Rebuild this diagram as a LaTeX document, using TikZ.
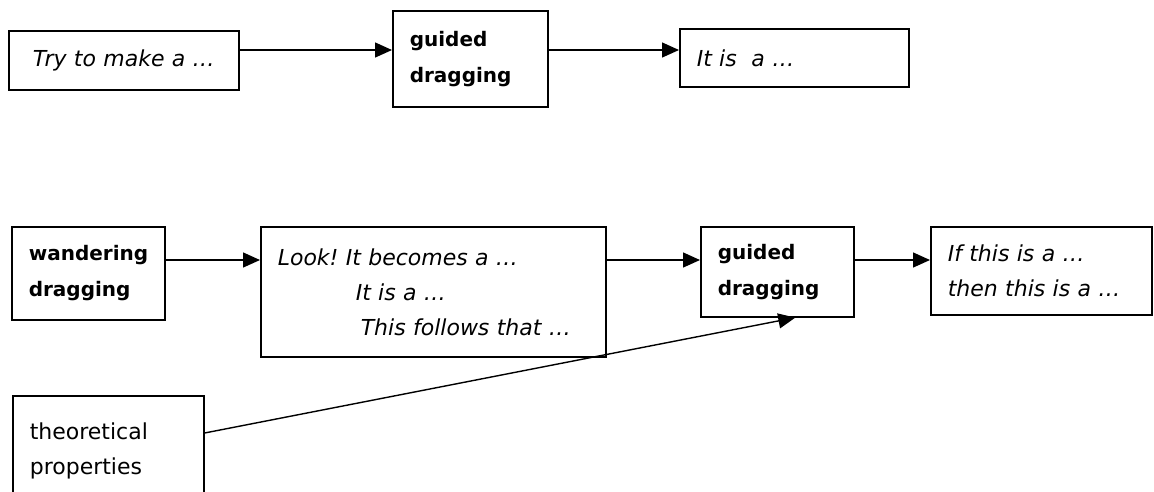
\documentclass[tikz,border=0pt]{standalone}
\usepackage{fontspec}
\setmainfont{DejaVu Sans}
\usetikzlibrary{arrows.meta}
\frenchspacing

\begin{document}
\begin{tikzpicture}[x=1pt, y=-1pt,
    box/.style={draw, line width=1.6pt, anchor=north west, inner xsep=17pt, inner ysep=0pt, align=left},
    phrase/.style={box, font=\fontsize{22}{35}\selectfont\itshape},
    mode/.style={box, font=\fontsize{20}{36}\selectfont\bfseries},
    plain/.style={box, font=\fontsize{22}{35}\selectfont},
    arr/.style={line width=1.4pt, -{Triangle[length=17pt, width=15pt]}}]
  \useasboundingbox (0,0) rectangle (1154,491);
  % ---- top row: aim, guided dragging, result ----
  \node[phrase, align=center, text width=196pt, minimum height=59pt] (try) at (8,30) {Try to make a …};
  \node[mode, text width=121pt, minimum height=96pt] (guidedA) at (392,10) {guided\\dragging};
  \node[phrase, text width=195pt, minimum height=58pt] (itis) at (679,28) {It is\ \ a …};
  \coordinate (rowA) at (0,50);
  \draw[arr] (try.east |- rowA) -- (guidedA.west |- rowA);
  \draw[arr] (guidedA.east |- rowA) -- (itis.west |- rowA);
  % ---- bottom row: wandering dragging, conjectures, guided dragging, conditional ----
  \node[mode, text width=119pt, minimum height=93pt] (wander) at (11,226) {wandering\\dragging};
  \node[phrase, text width=311pt, minimum height=130pt] (look) at (260,226)
    {Look! It becomes a …\\\hspace*{78pt}It is a …\\\hspace*{83pt}This follows that …};
  \node[mode, text width=119pt, minimum height=90pt] (guidedB) at (700,226) {guided\\dragging};
  \node[phrase, text width=187pt, minimum height=88pt] (ifthen) at (930,226) {If this is a …\\then this is a …};
  \coordinate (rowB) at (0,260);
  \draw[arr] (wander.east |- rowB) -- (look.west |- rowB);
  \draw[arr] (look.east |- rowB) -- (guidedB.west |- rowB);
  \draw[arr] (guidedB.east |- rowB) -- (ifthen.west |- rowB);
  % ---- theory feeds the second guided dragging ----
  \node[plain, text width=157pt, minimum height=110pt] (theory) at (12,395) {theoretical\\properties};
  \draw[arr] ([yshift=-38pt]theory.north east) -- ([xshift=18pt]guidedB.south);
\end{tikzpicture}
\end{document}
